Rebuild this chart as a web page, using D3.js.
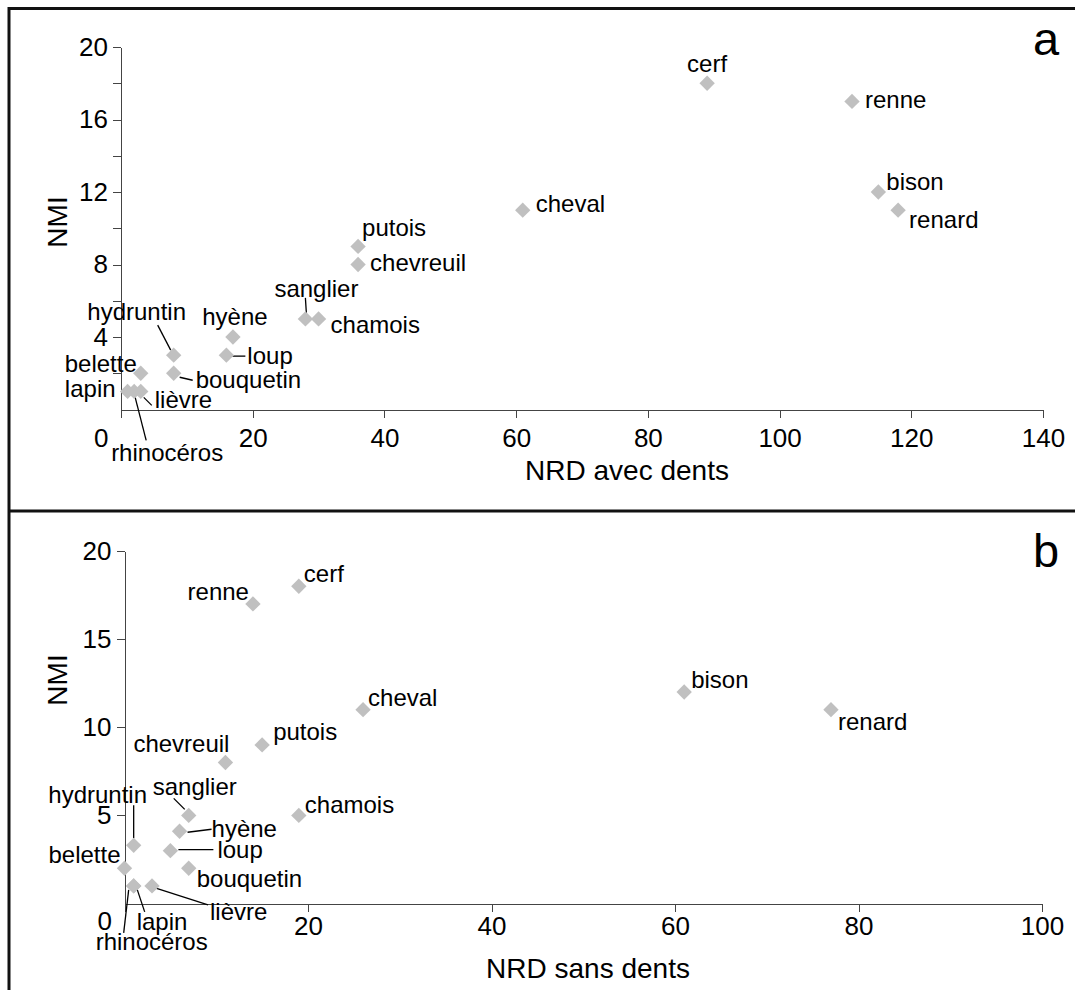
<!DOCTYPE html>
<html>
<head>
<meta charset="utf-8">
<script src="https://cdn.jsdelivr.net/npm/d3@7"></script>
<style>
body { margin: 0; background: #fff; }
svg { display: block; font-family: "Liberation Sans", Arial, sans-serif; }
.axis path, .axis line { stroke: #444; stroke-width: 1; shape-rendering: crispEdges; }
.axis text { fill: #000; font-size: 26px; font-family: "Liberation Sans", Arial, sans-serif; }
.lbl { font-size: 24px; fill: #000; }
.lead { stroke: #000; stroke-width: 1.3; }
</style>
</head>
<body>
<script>
// data
var species = ["cerf", "renne", "bison", "renard", "cheval", "putois", "chevreuil", "sanglier", "chamois",
    "hyène", "loup", "hydruntin", "bouquetin", "belette", "lapin", "rhinocéros", "lièvre"];

// a : NRD avec dents / NMI
var nrdAvec = [89, 111, 115, 118, 61, 36, 36, 28, 30, 17, 16, 8, 8, 3, 1, 2, 3];
var nmiAvec = [18, 17, 12, 11, 11, 9, 8, 5, 5, 4, 3, 3, 2, 2, 1, 1, 1];

// b : NRD sans dents / NMI
var nrdSans = [19, 14, 61, 77, 26, 15, 11, 7, 19, 6, 5, 1, 7, 0, 1, 1, 3];
var nmiSans = [18, 17, 12, 11, 11, 9, 8, 5, 5, 4.1, 3, 3.3, 2, 2, 1, 1, 1];

var xTicksA = [0, 20, 40, 60, 80, 100, 120, 140];
var yTicksA = [2, 4, 6, 8, 10, 12, 14, 16, 18, 20];
var yLabelsA = [4, 8, 12, 16, 20];
var xTicksB = [0, 20, 40, 60, 80, 100];
var yTicksB = [5, 10, 15, 20];
var yLabelsB = [5, 10, 15, 20];

// label placement (pixels from the point), leader lines as x1,y1,x2,y2
var layoutA = {
    "cerf": {a: "middle", dx: 0, dy: -11},
    "renne": {a: "start", dx: 13, dy: 7},
    "bison": {a: "start", dx: 8, dy: -2},
    "renard": {a: "start", dx: 11, dy: 18},
    "cheval": {a: "start", dx: 13, dy: 2},
    "putois": {a: "start", dx: 4, dy: -10},
    "chevreuil": {a: "start", dx: 12, dy: 6},
    "sanglier": {a: "middle", dx: 11, dy: -22, lead: [0, -21, 1, -5]},
    "chamois": {a: "start", dx: 12, dy: 14},
    "hyène": {a: "middle", dx: 2, dy: -12},
    "loup": {a: "start", dx: 21, dy: 9, lead: [6, 1, 19, 1]},
    "hydruntin": {a: "middle", dx: -37, dy: -35, lead: [-16, -30, -3, -5]},
    "bouquetin": {a: "start", dx: 22, dy: 15, lead: [6, 4, 19, 7]},
    "belette": {a: "end", dx: -4, dy: -1},
    "lapin": {a: "end", dx: -12, dy: 6},
    "rhinocéros": {a: "middle", dx: 33, dy: 70, lead: [1, 6, 12, 49]},
    "lièvre": {a: "start", dx: 14, dy: 17, lead: [3, 6, 11, 14]}
};

var layoutB = {
    "cerf": {a: "start", dx: 5, dy: -4},
    "renne": {a: "end", dx: -4, dy: -4},
    "bison": {a: "start", dx: 7, dy: -4},
    "renard": {a: "start", dx: 7, dy: 20},
    "cheval": {a: "start", dx: 5, dy: -4},
    "putois": {a: "start", dx: 11, dy: -5},
    "chevreuil": {a: "end", dx: 4, dy: -11},
    "sanglier": {a: "middle", dx: 6, dy: -20, lead: [-15, -17, -4, -6]},
    "chamois": {a: "start", dx: 6, dy: -2},
    "hyène": {a: "start", dx: 32, dy: 6, lead: [8, 1, 32, -2]},
    "loup": {a: "start", dx: 47, dy: 7, lead: [8, -1, 43, -1]},
    "hydruntin": {a: "middle", dx: -36, dy: -42, lead: [0, -40, 0, -7]},
    "bouquetin": {a: "start", dx: 8, dy: 19},
    "belette": {a: "end", dx: -4, dy: -5},
    "lapin": {a: "start", dx: 3, dy: 44, lead: [3, 2, 11, 26]},
    "rhinocéros": {a: "middle", dx: 18, dy: 64, lead: [-5, 4, -10, 47]},
    "lièvre": {a: "start", dx: 58, dy: 34, lead: [3, 2, 56, 19]}
};

var W = 1075, H = 990;

var svg = d3.select("body").append("svg")
    .attr("width", W)
    .attr("height", H);

// panel frames
svg.append("line").attr("x1", 9).attr("y1", 7).attr("x2", 9).attr("y2", H + 5)
    .attr("stroke", "#111").attr("stroke-width", 3);
svg.append("line").attr("x1", 8).attr("y1", 8.5).attr("x2", W + 5).attr("y2", 8.5)
    .attr("stroke", "#111").attr("stroke-width", 3);
svg.append("line").attr("x1", 8).attr("y1", 511).attr("x2", W + 5).attr("y2", 511)
    .attr("stroke", "#111").attr("stroke-width", 3);

function drawPanel(p) {
    var x = d3.scaleLinear().domain([0, p.xMax]).range(p.xRange);
    var y = d3.scaleLinear().domain([0, 20]).range(p.yRange);

    var g = svg.append("g");

    var xAxis = d3.axisBottom(x).tickValues(p.xTicks).tickSize(8).tickSizeOuter(0)
        .tickPadding(p.xPad).tickFormat(d3.format("d"));
    var gx = g.append("g").attr("class", "axis")
        .attr("transform", "translate(0," + p.yRange[0] + ")")
        .call(xAxis);
    gx.selectAll(".tick text").filter(d => d === 0)
        .attr("text-anchor", "end")
        .attr("x", -13)
        .attr("y", p.xPad + 8 + p.zeroDy);

    var yAxis = d3.axisLeft(y).tickValues(p.yTicks).tickSize(8).tickSizeOuter(0)
        .tickPadding(5).tickFormat(d => p.yLabels.indexOf(d) >= 0 ? d : "");
    g.append("g").attr("class", "axis")
        .attr("transform", "translate(" + p.xRange[0] + ",0)")
        .call(yAxis);
    g.selectAll(".axis .domain").attr("stroke", "#444");

    // axis titles
    g.append("text")
        .attr("transform", "translate(" + p.yTitle[0] + "," + p.yTitle[1] + ") rotate(-90)")
        .attr("text-anchor", "middle")
        .attr("dy", "0.35em")
        .style("font-size", "28px")
        .text("NMI");
    g.append("text")
        .attr("x", p.xTitle[0]).attr("y", p.xTitle[1])
        .attr("text-anchor", "middle")
        .style("font-size", "28px")
        .text(p.xLabel);

    g.append("text")
        .attr("x", p.tag[0]).attr("y", p.tag[1])
        .style("font-size", "47px")
        .text(p.tagText);

    var pts = species.map((s, i) => ({name: s, vx: p.xs[i], vy: p.ys[i], l: p.layout[s]}));

    g.selectAll(".lead")
        .data(pts.filter(d => d.l.lead))
        .enter().append("line")
        .attr("class", "lead")
        .attr("x1", d => x(d.vx) + d.l.lead[0])
        .attr("y1", d => y(d.vy) + d.l.lead[1])
        .attr("x2", d => x(d.vx) + d.l.lead[2])
        .attr("y2", d => y(d.vy) + d.l.lead[3]);

    var sym = d3.symbol().type(d3.symbolSquare).size(118);
    g.selectAll(".pt")
        .data(pts)
        .enter().append("path")
        .attr("class", "pt")
        .attr("d", sym)
        .attr("fill", "#c0c0c0")
        .attr("transform", d => "translate(" + x(d.vx) + "," + y(d.vy) + ") rotate(45)");

    g.selectAll(".lbl")
        .data(pts)
        .enter().append("text")
        .attr("class", "lbl")
        .attr("x", d => x(d.vx) + d.l.dx)
        .attr("y", d => y(d.vy) + d.l.dy)
        .attr("text-anchor", d => d.l.a)
        .text(d => d.name);
}

drawPanel({
    xs: nrdAvec, ys: nmiAvec, layout: layoutA,
    xMax: 140, xRange: [121, 1043], yRange: [409.5, 47],
    xTicks: xTicksA, yTicks: yTicksA, yLabels: yLabelsA,
    xPad: 11, zeroDy: 0,
    yTitle: [57, 222], xTitle: [627, 480], xLabel: "NRD avec dents",
    tag: [1033, 55], tagText: "a"
});

drawPanel({
    xs: nrdSans, ys: nmiSans, layout: layoutB,
    xMax: 100, xRange: [124.5, 1042], yRange: [903.5, 551],
    xTicks: xTicksB, yTicks: yTicksB, yLabels: yLabelsB,
    xPad: 5, zeroDy: -5,
    yTitle: [57, 680], xTitle: [588, 978], xLabel: "NRD sans dents",
    tag: [1033, 567], tagText: "b"
});
</script>
</body>
</html>
